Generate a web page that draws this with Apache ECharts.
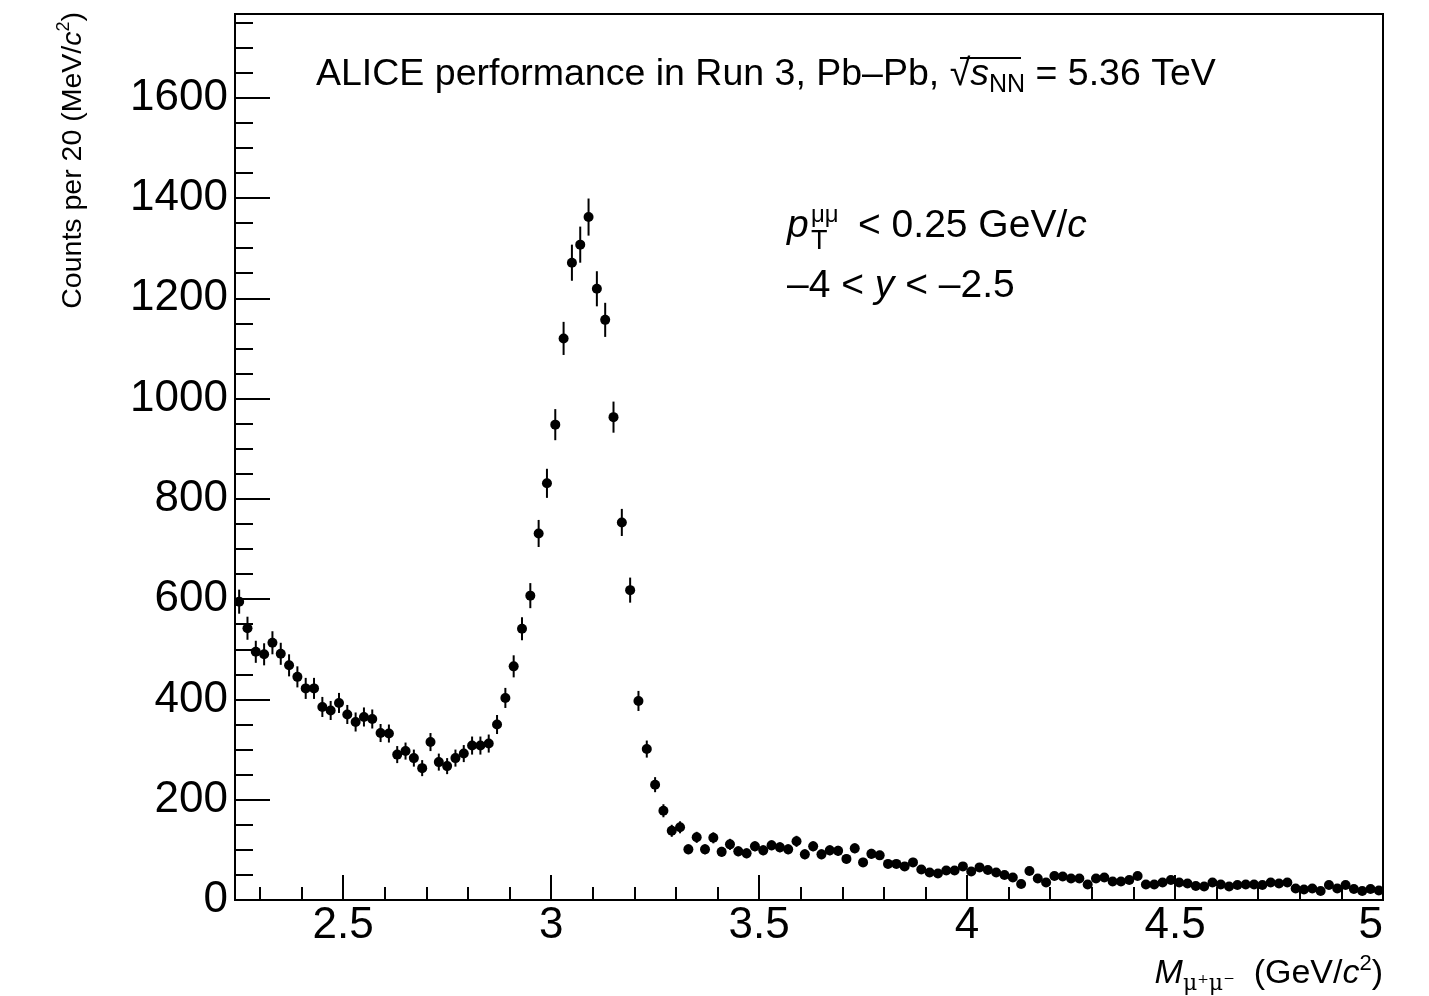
<!DOCTYPE html>
<html>
<head>
<meta charset="utf-8">
<script src="https://cdn.jsdelivr.net/npm/echarts@6/dist/echarts.min.js"></script>
<style>html,body{margin:0;padding:0;background:#fff;}#c{width:1429px;height:996px;}</style>
</head>
<body>
<div id="c"></div>
<script>
// Histogram binning (GeV/c^2)
const binLow = 2.24;
const binWidth = 0.02;
const xMin = 2.24, xMax = 5;
const yMin = 0, yMax = 1767;

// Counts per bin
const counts = [
  595,542,495,490,513,491,468,445,422,422,
  385,378,393,370,355,365,361,333,332,290,
  297,283,263,315,275,267,283,292,308,308,
  312,350,403,466,541,607,731,831,948,1120,
  1271,1307,1362,1219,1157,963,753,618,397,301,
  230,178,138,145,101,125,101,124,96,111,
  97,93,107,99,109,105,101,117,91,107,
  91,99,98,82,103,75,92,89,72,72,
  67,75,61,55,53,59,59,67,57,65,
  60,55,50,45,32,58,43,35,48,47,
  43,43,31,43,45,37,37,40,48,31,
  31,35,40,35,33,28,27,35,31,27,
  30,31,31,30,35,33,35,23,21,23,
  18,30,23,30,22,18,22,19
];
// Error bar half-lengths
const errors = [
  24,23,22,22,23,22,22,21,21,21,
  20,19,20,19,19,19,19,18,18,17,
  17,17,16,18,17,16,17,17,18,18,
  18,19,20,22,23,25,27,29,31,33,
  36,36,37,35,34,31,27,25,20,17,
  15,13,12,12,10,11,10,11,10,11,
  10,10,10,10,10,10,10,11,10,10,
  10,10,10,9,10,9,10,9,8,8,
  8,9,8,7,7,8,8,8,8,8,
  8,7,7,7,6,8,7,6,7,7,
  7,7,6,7,7,6,6,6,7,6,
  6,6,6,6,6,5,5,6,6,5,
  5,6,6,5,6,6,6,5,5,5,
  4,5,5,5,5,4,5,4
];

// Tick labels / positions
const xMajorTicks = [2.5, 3, 3.5, 4, 4.5, 5];
const xMinorTicks = [2.3,2.4,2.6,2.7,2.8,2.9,3.1,3.2,3.3,3.4,3.6,3.7,3.8,3.9,4.1,4.2,4.3,4.4,4.6,4.7,4.8,4.9];
const yMajorTicks = [0,200,400,600,800,1000,1200,1400,1600];
const yMinorTicks = [50,100,150,250,300,350,450,500,550,650,700,750,850,900,950,1050,1100,1150,1250,1300,1350,1450,1500,1550,1650,1700,1750];

const points = counts.map((c, i) => [binLow + binWidth * (i + 0.5), c, errors[i]]);

const FONT = "'Liberation Sans', Arial, Helvetica, sans-serif";
const chart = echarts.init(document.getElementById('c'));

const option = {
  backgroundColor: '#fff',
  animation: false,
  textStyle: { fontFamily: FONT, color: '#000' },
  grid: { left: 235, right: 46, top: 14, bottom: 96, show: true, borderColor: '#000', borderWidth: 2, backgroundColor: 'transparent' },
  xAxis: [
    {
      type: 'value', min: xMin, max: xMax, position: 'bottom',
      axisLine: { show: true, lineStyle: { color: '#000', width: 2 } },
      axisTick: { show: true, inside: true, length: 25, customValues: xMajorTicks, lineStyle: { color: '#000', width: 2 } },
      axisLabel: { show: true, customValues: xMajorTicks, fontSize: 44, color: '#000', fontFamily: FONT, margin: 4, alignMaxLabel: 'right', formatter: v => String(v) },
      splitLine: { show: false }
    },
    {
      type: 'value', min: xMin, max: xMax, position: 'bottom', gridIndex: 0,
      axisLine: { show: false },
      axisTick: { show: true, inside: true, length: 13, customValues: xMinorTicks, lineStyle: { color: '#000', width: 2 } },
      axisLabel: { show: false },
      splitLine: { show: false }
    }
  ],
  yAxis: [
    {
      type: 'value', min: yMin, max: yMax, position: 'left',
      axisLine: { show: true, lineStyle: { color: '#000', width: 2 } },
      axisTick: { show: true, inside: true, length: 35, customValues: yMajorTicks, lineStyle: { color: '#000', width: 2 } },
      axisLabel: { show: true, customValues: yMajorTicks, fontSize: 44, color: '#000', fontFamily: FONT, margin: 7, formatter: v => String(v) },
      splitLine: { show: false }
    },
    {
      type: 'value', min: yMin, max: yMax, position: 'left', gridIndex: 0,
      axisLine: { show: false },
      axisTick: { show: true, inside: true, length: 18, customValues: yMinorTicks, lineStyle: { color: '#000', width: 2 } },
      axisLabel: { show: false },
      splitLine: { show: false }
    }
  ],
  series: [
    {
      type: 'custom', xAxisIndex: 0, yAxisIndex: 0, data: points, z: 2,
      encode: { x: 0, y: 1 },
      renderItem: function (params, api) {
        const x = api.value(0), y = api.value(1), e = api.value(2);
        const p1 = api.coord([x, y - e]);
        const p2 = api.coord([x, y + e]);
        return { type: 'line', shape: { x1: p1[0], y1: p1[1], x2: p2[0], y2: p2[1] }, style: { stroke: '#000', lineWidth: 2 } };
      }
    },
    {
      type: 'scatter', xAxisIndex: 0, yAxisIndex: 0, z: 3,
      data: points.map(p => [p[0], p[1]]),
      symbol: 'circle', symbolSize: 10,
      itemStyle: { color: '#000', opacity: 1 }
    }
  ],
  graphic: [
    {
      type: 'text', x: 316, y: 52, z: 10,
      style: {
        text: 'ALICE performance in Run 3, Pb–Pb, √{it|s}{sub|NN} = 5.36 TeV',
        font: '37.5px ' + FONT, fill: '#000', lineHeight: 46,
        rich: {
          it: { fontSize: 37.5, fontStyle: 'italic', fontFamily: FONT, lineHeight: 46 },
          sub: { fontSize: 25, fontFamily: FONT, lineHeight: 25, verticalAlign: 'bottom' }
        }
      }
    },
    {
      type: 'line', z: 10,
      shape: { x1: 960, y1: 58, x2: 1021, y2: 58 },
      style: { stroke: '#000', lineWidth: 2 }
    },
    {
      type: 'text', x: 787, y: 207, z: 10,
      style: { text: 'p', font: 'italic 39px ' + FONT, fill: '#000' }
    },
    {
      type: 'text', x: 811, y: 203, z: 10,
      style: { text: 'μμ', font: '24px ' + FONT, fill: '#000' }
    },
    {
      type: 'text', x: 811, y: 228, z: 10,
      style: { text: 'T', font: '27px ' + FONT, fill: '#000' }
    },
    {
      type: 'text', x: 858, y: 207, z: 10,
      style: {
        text: '< 0.25 GeV/{it|c}',
        font: '39px ' + FONT, fill: '#000',
        rich: { it: { fontSize: 39, fontStyle: 'italic', fontFamily: FONT } }
      }
    },
    {
      type: 'text', x: 787, y: 267, z: 10,
      style: {
        text: '–4 < {it|y} < –2.5',
        font: '39px ' + FONT, fill: '#000',
        rich: { it: { fontSize: 39, fontStyle: 'italic', fontFamily: FONT } }
      }
    },
    {
      type: 'text', x: 1383, y: 953, z: 10,
      style: {
        text: '{it|M}{sub|μ⁺μ⁻}  (GeV/{it|c}{sup|2})',
        font: '34px ' + FONT, fill: '#000', align: 'right', verticalAlign: 'top', lineHeight: 42,
        rich: {
          it: { fontSize: 34, fontStyle: 'italic', fontFamily: FONT, lineHeight: 42 },
          sub: { fontSize: 22, fontFamily: "'DejaVu Serif', serif", lineHeight: 22, verticalAlign: 'bottom' },
          sup: { fontSize: 22, fontFamily: FONT, lineHeight: 28, verticalAlign: 'top' }
        }
      }
    },
    {
      type: 'text', x: 55, y: 12, rotation: Math.PI / 2, z: 10,
      style: {
        text: 'Counts per 20 (MeV/{it|c}{sup|2})',
        font: '28.5px ' + FONT, fill: '#000', align: 'right', verticalAlign: 'top', lineHeight: 36,
        rich: {
          it: { fontSize: 28.5, fontStyle: 'italic', fontFamily: FONT, lineHeight: 36 },
          sup: { fontSize: 18, fontFamily: FONT, lineHeight: 24, verticalAlign: 'top' }
        }
      }
    }
  ]
};
chart.setOption(option);
</script>
</body>
</html>
